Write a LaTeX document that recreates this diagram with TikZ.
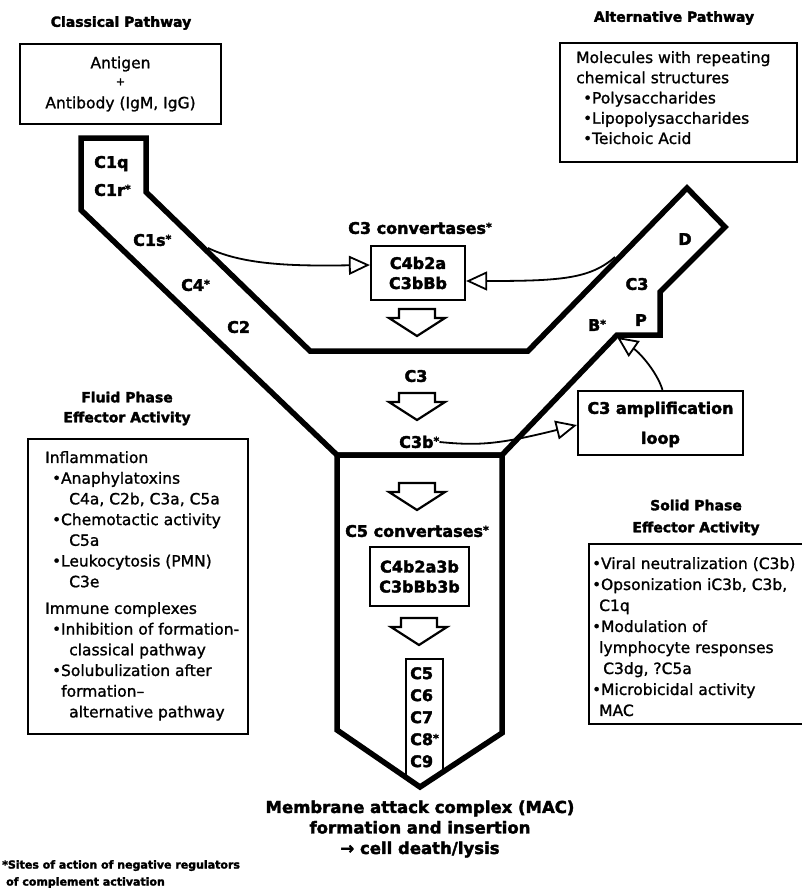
\documentclass[tikz,border=0pt]{standalone}
\usepackage{fontspec}
\setmainfont{DejaVu Sans}
\newfontfamily\rg[FakeBold=1.2]{DejaVu Sans}
\newfontfamily\hv[FakeBold=2.2]{DejaVu Sans Bold}
\usetikzlibrary{arrows.meta,calc}
\newcommand\sx{{\fontsize{11}{11}\selectfont\raisebox{3pt}{*}}}
\newcommand\bu{{\fontsize{15}{15}\selectfont\raisebox{0.3pt}{•}}}
\begin{document}
\begin{tikzpicture}[x=1pt,y=-1pt,
  yline/.style={line width=5.5pt, line join=miter, miter limit=10},
  boxframe/.style={draw, line width=2.2pt, inner sep=0pt},
  lbl/.style={font=\fontsize{16}{20}\selectfont\hv, inner sep=0pt, text height=11.7pt, text depth=0pt},
  hdr/.style={font=\fontsize{14}{20}\selectfont\hv, inner sep=0pt, align=center},
  txt/.style={inner sep=0pt, align=left, anchor=north west},
  conn/.style={line width=1.8pt, -{Triangle[open, length=21pt, width=19pt, line width=1.8pt]}},
  barrow/.pic={\draw[line width=2.2pt, fill=white, line join=miter] (-18,0) -- (18,0) -- (18,9) -- (28,9) -- (0,27) -- (-28,9) -- (-18,9) -- cycle;}
]
\useasboundingbox (0,0) rectangle (801,888);
\fill[white] (0,0) rectangle (801,888);

% Y outline
\draw[yline] (81,138) -- (146,138) -- (146,192) -- (310,351) -- (528,351) -- (687,188) -- (725,227) -- (660,292) -- (660,335) -- (617,335) -- (502,455) -- (337,455) -- (81,210) -- cycle;
\draw[yline] (337,455) -- (502,455) -- (502,733) -- (420,787) -- (337,730) -- cycle;
\draw[line width=2.5pt] (406,777) -- (406,659) -- (443,659) -- (443,772);

% headers
\node[hdr] (clh) at (121,23) {Classical Pathway};
\node[hdr] (alh) at (674,18) {Alternative Pathway};
\node[hdr] (flh) at (127,408.5) {Fluid Phase\\Effector Activity};
\node[hdr, font=\fontsize{14}{22}\selectfont\hv] (soh) at (696,517.5) {Solid Phase\\Effector Activity};

% antigen box
\node[boxframe, minimum width=201pt, minimum height=80pt, align=center, font=\fontsize{15.5}{20}\selectfont\rg] (ag) at (120.5,84) {Antigen\\\raisebox{3pt}{\fontsize{11}{11}\selectfont +}\\Antibody (IgM, IgG)};

% alternative box
\node[boxframe, minimum width=237pt, minimum height=119pt, anchor=north west] (altbox) at (559,42) {};
\node[txt, font=\fontsize{15.5}{20.25}\selectfont\rg] (alttext) at (576,51) {Molecules with repeating\\chemical structures\\\hspace*{7pt}\bu Polysaccharides\\\hspace*{7pt}\bu Lipopolysaccharides\\\hspace*{7pt}\bu Teichoic Acid};

% fluid phase box
\node[boxframe, minimum width=220pt, minimum height=295pt, anchor=north west] (flbox) at (27,438) {};
\node[txt, font=\fontsize{15.5}{20.7}\selectfont\rg] (fltext) at (45,451) {Inflammation\\
\hspace*{7pt}\bu Anaphylatoxins\\
\hspace*{24pt}C4a, C2b, C3a, C5a\\
\hspace*{7pt}\bu Chemotactic activity\\
\hspace*{24pt}C5a\\
\hspace*{7pt}\bu Leukocytosis (PMN)\\
\hspace*{24pt}C3e\\[6pt]
Immune complexes\\
\hspace*{7pt}\bu Inhibition of formation-\\
\hspace*{24pt}classical pathway\\
\hspace*{7pt}\bu Solubulization after\\
\hspace*{16pt}formation–\\
\hspace*{24pt}alternative pathway};

% solid phase box
\node[boxframe, minimum width=230pt, minimum height=180pt, anchor=north west] (sobox) at (588,543) {};
\node[txt, font=\fontsize{15.5}{21}\selectfont\rg] (sotext) at (592,557) {\bu Viral neutralization (C3b)\\
\bu Opsonization iC3b, C3b,\\
\hspace*{7pt}C1q\\
\bu Modulation of\\
\hspace*{7pt}lymphocyte responses\\
\hspace*{11pt}C3dg, ?C5a\\
\bu Microbicidal activity\\
\hspace*{7pt}MAC};

% labels in Y
\node[lbl, anchor=west] (c1q) at (94,162) {C1q};
\node[lbl, anchor=west] (c1r) at (94,190) {C1r\sx};
\node[lbl, anchor=west] (c1s) at (133,240) {C1s\sx};
\node[lbl, anchor=west] (c4) at (181,285) {C4\sx};
\node[lbl, anchor=west] (c2) at (227,327) {C2};
\node[lbl] (c3conv) at (420,228) {C3 convertases\sx};
\node[boxframe, minimum width=94pt, minimum height=54pt, align=center, font=\fontsize{16}{20}\selectfont\hv] (c3box) at (418,273) {C4b2a\\C3bBb};
\node[lbl] (d) at (685,239) {D};
\node[lbl] (c3r) at (637,284) {C3};
\node[lbl] (p) at (641,320) {P};
\node[lbl] (b) at (597,325) {B\sx};
\node[lbl] (c3m) at (416,376) {C3};
\node[lbl, anchor=west] (c3b) at (399,442) {C3b\sx};
\node[boxframe, minimum width=165pt, minimum height=64pt, align=center, font=\fontsize{16}{30}\selectfont\hv] (amp) at (660.5,423) {\rule{0pt}{15pt}C3 amplification\\loop};
\node[lbl] (c5conv) at (417,531) {C5 convertases\sx};
\node[boxframe, minimum width=99pt, minimum height=59pt, align=center, font=\fontsize{16}{20}\selectfont\hv] (c5box) at (419.5,576.5) {C4b2a3b\\C3bBb3b};
\node[inner sep=0pt, align=left, anchor=north west, font=\fontsize{16}{22}\selectfont\hv] (cnine) at (410,667) {C5\\C6\\C7\\C8\sx\\C9};

% block arrows
\pic at (417,309) {barrow};
\pic at (417,393) {barrow};
\pic at (417,483) {barrow};
\pic at (419,618) {barrow};

% bottom text
\node[inner sep=0pt, align=center, font=\fontsize{16.5}{20.5}\selectfont\hv] (mac) at (420,829) {Membrane attack complex (MAC)\\formation and insertion\\→ cell death/lysis};
\node[inner sep=0pt, align=left, anchor=north west, font=\fontsize{11}{17}\selectfont\hv] (foot) at (2,860) {*Sites of action of negative regulators\\\hspace*{4pt}of complement activation};

% connectors
\coordinate (armL) at (208,248);
\coordinate (armR) at (615,257);
\coordinate (notch) at (617,337);
\draw[conn] (armL) .. controls (245,266) and (300,266) .. ($(c3box.west)+(0,-8)$);
\draw[conn] (armR) .. controls (590,279) and (560,281) .. ($(c3box.east)+(0,8)$);
\draw[conn] (c3b.east) .. controls (480,446) and (500,444) .. ($(amp.west)+(0,2)$);
\draw[conn] ($(amp.north)+(2,0)$) .. controls (657,372) and (640,353) .. (notch);
\end{tikzpicture}
\end{document}
